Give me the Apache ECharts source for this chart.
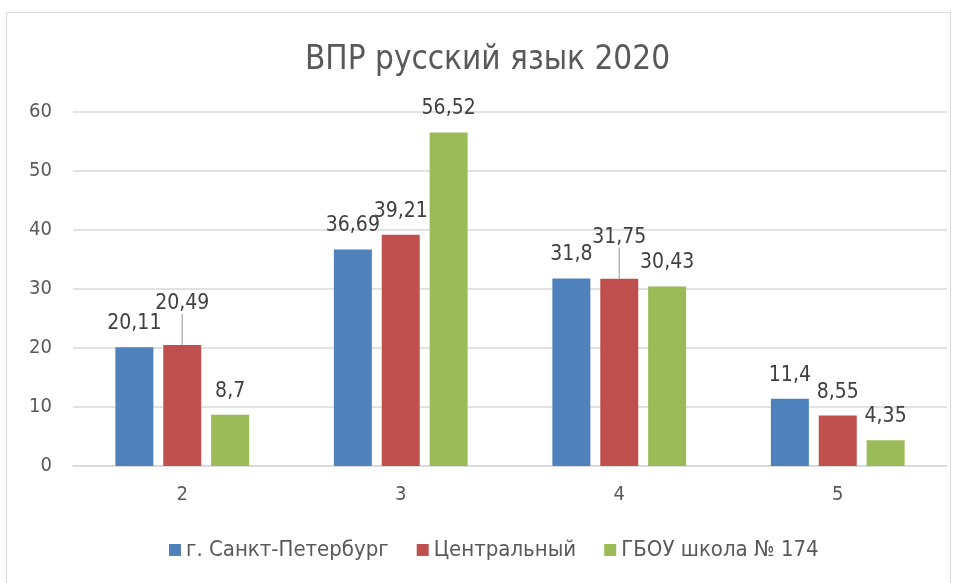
<!DOCTYPE html>
<html>
<head>
<meta charset="utf-8">
<script src="https://cdn.jsdelivr.net/npm/echarts@6/dist/echarts.min.js"></script>
<style>
html, body { margin: 0; padding: 0; background: #fff; }
#main { width: 955px; height: 583px; }
</style>
</head>
<body>
<div id="main"></div>
<script>
var categories = ['2', '3', '4', '5'];
var spb = [20.11, 36.69, 31.8, 11.4];
var central = [20.49, 39.21, 31.75, 8.55];
var school = [8.7, 56.52, 30.43, 4.35];
var seriesNames = ['г. Санкт-Петербург', 'Центральный', 'ГБОУ школа № 174'];
// labels Excel pulled up with a leader line (series 1, data index)
var liftedLabels = [0, 2];

var font = "'DejaVu Sans Condensed', sans-serif";
var myChart = echarts.init(document.getElementById('main'));

function fmt(p) {
    return String(p.value).replace('.', ',');
}

function makeSeries(name, data, lifted) {
    var items = data.map(function (v, i) {
        if (lifted && liftedLabels.indexOf(i) >= 0) {
            return {value: v, labelLine: {show: true}};
        }
        return v;
    });
    var s = {
        name: name,
        type: 'bar',
        data: items,
        barWidth: 38,
        barGap: '26%',
        label: {
            show: true,
            position: 'top',
            distance: 13,
            color: '#404040',
            fontSize: 21,
            fontFamily: font,
            formatter: fmt
        }
    };
    if (lifted) {
        s.labelLine = {show: false, lineStyle: {color: '#a6a6a6', width: 1.2}};
        s.labelLayout = function (p) {
            if (liftedLabels.indexOf(p.dataIndex) >= 0) {
                return {dy: -18};
            }
            return {};
        };
    }
    return s;
}

var option = {
    animation: false,
    color: ['#4f81bd', '#c0504d', '#9bbb59'],
    title: {
        text: 'ВПР русский язык 2020',
        left: 300,
        top: 39,
        textStyle: {color: '#595959', fontSize: 33, fontWeight: 'normal', fontFamily: font}
    },
    legend: {
        data: seriesNames,
        bottom: 17,
        left: 164,
        itemWidth: 12,
        itemHeight: 12,
        itemGap: 28,
        icon: 'rect',
        textStyle: {color: '#595959', fontSize: 22, fontFamily: font}
    },
    grid: {left: 73, right: 8, top: 112, bottom: 117},
    xAxis: {
        type: 'category',
        data: categories,
        axisLine: {lineStyle: {color: '#d9d9d9', width: 1.5}},
        axisTick: {show: false},
        axisLabel: {color: '#595959', fontSize: 20, margin: 19, fontFamily: font}
    },
    yAxis: {
        type: 'value',
        min: 0,
        max: 60,
        interval: 10,
        axisLine: {show: false},
        axisTick: {show: false},
        axisLabel: {color: '#595959', fontSize: 20, margin: 21, fontFamily: font},
        splitLine: {lineStyle: {color: '#d9d9d9', width: 1.5}}
    },
    graphic: [{
        type: 'rect',
        shape: {x: 6.5, y: 12.5, width: 944, height: 580},
        style: {fill: 'none', stroke: '#d9d9d9', lineWidth: 1}
    }],
    series: [
        makeSeries(seriesNames[0], spb, false),
        makeSeries(seriesNames[1], central, true),
        makeSeries(seriesNames[2], school, false)
    ]
};
myChart.setOption(option);
</script>
</body>
</html>
